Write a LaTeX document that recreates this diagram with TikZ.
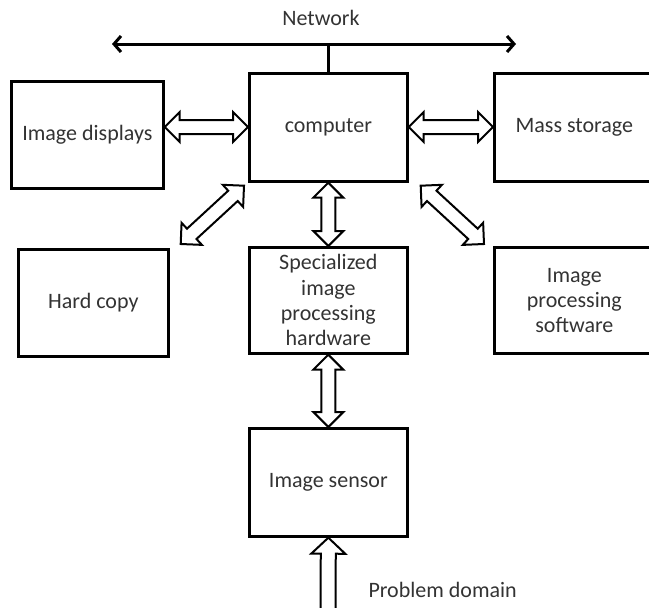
\documentclass[tikz,border=0pt]{standalone}
\usepackage{fontspec}
\setmainfont{Carlito}
\usetikzlibrary{calc,arrows.meta}
\begin{document}
\begin{tikzpicture}[x=1pt,y=-1pt,
  box/.style={draw=black,line width=2.7pt,inner sep=0pt,anchor=north west,
    font=\fontsize{22}{25.3}\selectfont,text=black!80,align=center},
  lbl/.style={font=\fontsize{22}{25.3}\selectfont,text=black!80},
  fat/.style={line width=2pt,line join=miter,fill=white,draw=black,
    to path={
      ($(\tikztostart)!15pt!(\tikztotarget)$) coordinate (fa1)
      ($(\tikztotarget)!15pt!(\tikztostart)$) coordinate (fa2)
      (\tikztostart) -- ($(fa1)!15pt!90:(\tikztotarget)$) -- ($(fa1)!7pt!90:(\tikztotarget)$)
      -- ($(fa2)!7pt!-90:(\tikztostart)$) -- ($(fa2)!15pt!-90:(\tikztostart)$)
      -- (\tikztotarget) -- ($(fa2)!15pt!90:(\tikztostart)$) -- ($(fa2)!7pt!90:(\tikztostart)$)
      -- ($(fa1)!7pt!-90:(\tikztotarget)$) -- ($(fa1)!15pt!-90:(\tikztotarget)$) -- cycle}},
  fatone/.style={line width=2pt,line join=miter,fill=white,draw=black,
    to path={
      ($(\tikztotarget)!16pt!(\tikztostart)$) coordinate (fa2)
      ($(\tikztostart)!7.5pt!90:(\tikztotarget)$)
      -- ($(fa2)!7.5pt!-90:(\tikztostart)$) -- ($(fa2)!17pt!-90:(\tikztostart)$)
      -- (\tikztotarget) -- ($(fa2)!17pt!90:(\tikztostart)$) -- ($(fa2)!7.5pt!90:(\tikztostart)$)
      -- ($(\tikztostart)!7.5pt!-90:(\tikztotarget)$)}}
]
\useasboundingbox (0,0) rectangle (649,608);
\begin{scope}
\clip (0,0) rectangle (649,608);
% network
\node[lbl] (net) at (321,18) {Network};
\coordinate (nl) at (112,44);
\coordinate (nr) at (516,44);
\draw[line width=3pt,{Straight Barb[length=7pt,width=16pt,line width=3pt]}-{Straight Barb[length=7pt,width=16pt,line width=3pt]}] (nl) -- (nr);
% boxes
\node[box,minimum width=158pt,minimum height=108pt] (comp) at (248,72) {computer};
\node[box,minimum width=152pt,minimum height=107pt] (disp) at (10,80) {Image displays};
\node[box,minimum width=160pt,minimum height=108pt] (mass) at (493,72) {Mass storage};
\node[box,minimum width=150pt,minimum height=107pt] (hard) at (17,248) {Hard copy};
\node[box,minimum width=158pt,minimum height=106pt] (spec) at (248,246) {Specialized\\image\\processing\\hardware};
\node[box,minimum width=160pt,minimum height=106pt] (soft) at (493,246) {Image\\processing\\software};
\node[box,minimum width=158pt,minimum height=108pt] (sens) at (248,427) {Image sensor};
\coordinate (stem) at (comp.north |- nl);
\draw[line width=2.4pt] (stem) -- (comp.north);
% fat arrows
\draw[fat] (disp.east |- 0,127) to (comp.west |- 0,127);
\draw[fat] (comp.east |- 0,127) to (mass.west |- 0,127);
\draw[fat] (comp.south) to (spec.north);
\draw[fat] (spec.south) to (sens.north);
\draw[fat] ($(hard.north east)+(11,-4)$) to ($(comp.south west)+(-4,3)$);
\draw[fat] ($(comp.south east)+(12,3)$) to ($(soft.north west)+(-9,-2)$);
\coordinate (pd) at (328,612);
\draw[fatone] (pd) to (sens.south);
\node[lbl,anchor=west] (prob) at (365,590) {Problem domain};
\end{scope}
\end{tikzpicture}
\end{document}
